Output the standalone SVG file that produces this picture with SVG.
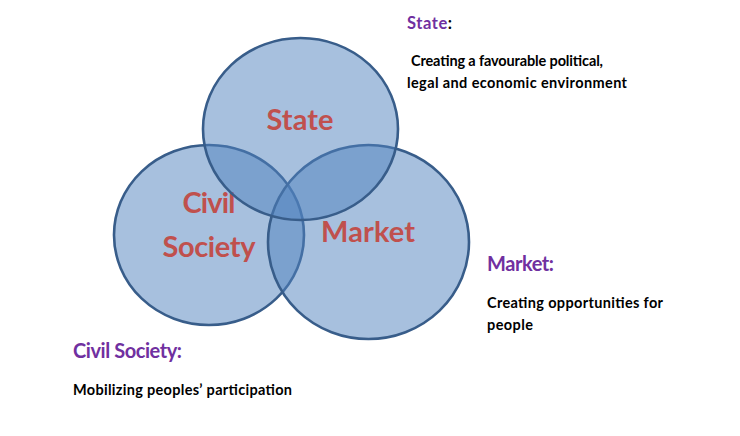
<svg xmlns="http://www.w3.org/2000/svg" width="740" height="436" viewBox="0 0 740 436">
  <style>
    .circle { fill: #4F81BD; fill-opacity: 0.5; stroke: #385D8A; stroke-width: 2.6; }
    .lbl { font-family: Lato, "Liberation Sans", sans-serif; font-weight: bold; font-size: 29px; fill: #C0504D; text-anchor: middle; }
    .head { font-family: Lato, "Liberation Sans", sans-serif; font-weight: bold; fill: #7030A0; }
    .body { font-family: Lato, "Liberation Sans", sans-serif; font-weight: bold; font-size: 14.5px; fill: #000000; }
  </style>
  <rect width="740" height="436" fill="#FFFFFF"/>
  <g id="connectors"></g>
  <g id="node-civil-society">
    <ellipse class="circle" cx="209" cy="235" rx="95" ry="90"/>
    <text class="lbl" x="209" y="213" textLength="53">Civil</text>
    <text class="lbl" x="209" y="257" textLength="93">Society</text>
  </g>
  <g id="node-market">
    <ellipse class="circle" cx="368.5" cy="242" rx="100.5" ry="97"/>
    <text class="lbl" x="368" y="242" textLength="94">Market</text>
  </g>
  <g id="node-state">
    <ellipse class="circle" cx="300.5" cy="129" rx="97.5" ry="91"/>
    <text class="lbl" x="300" y="130" textLength="67">State</text>
  </g>
  <g id="desc-state">
    <text class="head" x="407" y="29" font-size="16.5" textLength="45">State<tspan fill="#000000">:</tspan></text>
    <text class="body" x="411" y="66" textLength="192">Creating a favourable political,</text>
    <text class="body" x="407" y="88" textLength="220">legal and economic environment</text>
  </g>
  <g id="desc-market">
    <text class="head" x="487" y="271" font-size="20" textLength="67">Market:</text>
    <text class="body" x="487" y="308" textLength="176">Creating opportunities for</text>
    <text class="body" x="487" y="330" textLength="46">people</text>
  </g>
  <g id="desc-civil-society">
    <text class="head" x="73" y="358" font-size="20" textLength="109">Civil Society:</text>
    <text class="body" x="73" y="395" textLength="219">Mobilizing peoples’ participation</text>
  </g>
</svg>
